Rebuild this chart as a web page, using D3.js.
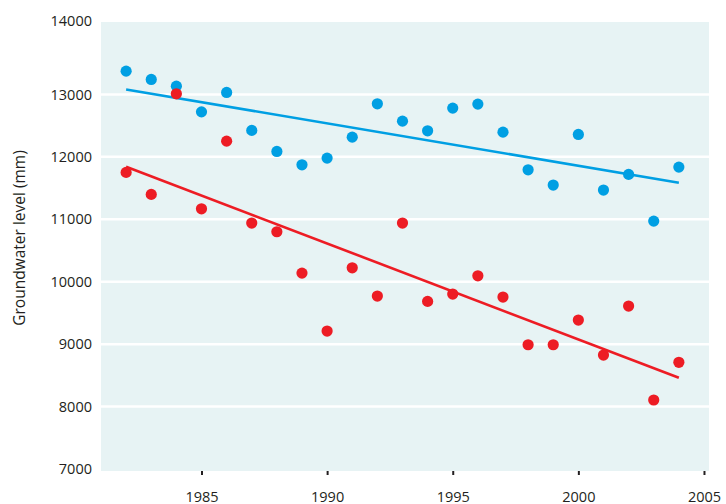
<!DOCTYPE html>
<html><head><meta charset="utf-8">
<script src="https://cdn.jsdelivr.net/npm/d3@7"></script>
<style>body{margin:0;background:#fff}svg{display:block}</style>
</head><body>
<svg id="c" width="726" height="504"></svg>
<script>
const years = d3.range(1982, 2005);
const blueValues = [13373,13240,13133,12721,13032,12424,12087,11873,11980,12316,12850,12572,12417,12781,12845,12396,11793,11548,12359,11468,11719,10971,11836];
const redValues  = [11751,11399,13010,11168,12252,10940,10800,10138,9210,10223,9770,10940,9685,9802,10095,9754,8990,8990,9386,8825,9610,8105,8709];
const trendYears = [1982, 2004];
const blueTrend = [13080, 11585];
const redTrend = [11841, 8462];
const yTicks = [7000,8000,9000,10000,11000,12000,13000,14000];
const xTicks = [1985,1990,1995,2000,2005];
const gridValues = [8000,9000,10000,11000,12000,13000];

const BLUE = "#009fe3", RED = "#ed1c24", BG = "#e7f3f4", TXT = "#231f20";
const svg = d3.select("#c");
const x = d3.scaleLinear().domain([1981, 2005.2]).range([101, 709]);
const y = d3.scaleLinear().domain([7000, 14000]).range([469, 32]);
const font = "'Open Sans', 'Noto Sans', sans-serif";

svg.append("rect").attr("x", x.range()[0]).attr("y", y(14000) - 10)
  .attr("width", x.range()[1] - x.range()[0]).attr("height", y(7000) + 2 - (y(14000) - 10))
  .attr("fill", BG);

svg.append("g").selectAll("line").data(gridValues).join("line")
  .attr("x1", x.range()[0]).attr("x2", x.range()[1])
  .attr("y1", d => y(d)).attr("y2", d => y(d))
  .attr("stroke", "#fff").attr("stroke-width", 2.5);

// y tick labels
svg.append("g").selectAll("text").data(yTicks).join("text")
  .attr("x", 92).attr("y", d => d === 14000 ? y(d) - 11 : y(d))
  .attr("dy", "0.35em").attr("text-anchor", "end")
  .attr("font-family", font).attr("font-size", 14.5).attr("fill", TXT)
  .text(d => d);

// x ticks
const xAxis = d3.axisBottom(x).tickValues(xTicks).tickFormat(d3.format("d")).tickSize(4).tickPadding(17);
const gx = svg.append("g").attr("transform", `translate(0,${y(7000)+2})`).call(xAxis);
gx.select(".domain").remove();
gx.selectAll(".tick line").attr("stroke", TXT).attr("stroke-width", 2);
gx.selectAll(".tick text").attr("font-family", font).attr("font-size", 14.5).attr("fill", TXT);

// axis title
svg.append("text").attr("transform", `translate(25,238) rotate(-90)`)
  .attr("text-anchor", "middle").attr("font-family", font).attr("font-size", 15.5).attr("fill", TXT)
  .text("Groundwater level (mm)");

const line = d3.line().x(d => x(d[0])).y(d => y(d[1]));
function series(vals, trend, color) {
  svg.append("path").datum(trendYears.map((t, i) => [t, trend[i]]))
    .attr("d", line).attr("fill", "none").attr("stroke", color).attr("stroke-width", 2.6);
  svg.append("g").selectAll("circle").data(years.map((yr, i) => [yr, vals[i]])).join("circle")
    .attr("cx", d => x(d[0])).attr("cy", d => y(d[1])).attr("r", 5.6).attr("fill", color);
}
series(blueValues, blueTrend, BLUE);
series(redValues, redTrend, RED);
</script>
</body></html>
